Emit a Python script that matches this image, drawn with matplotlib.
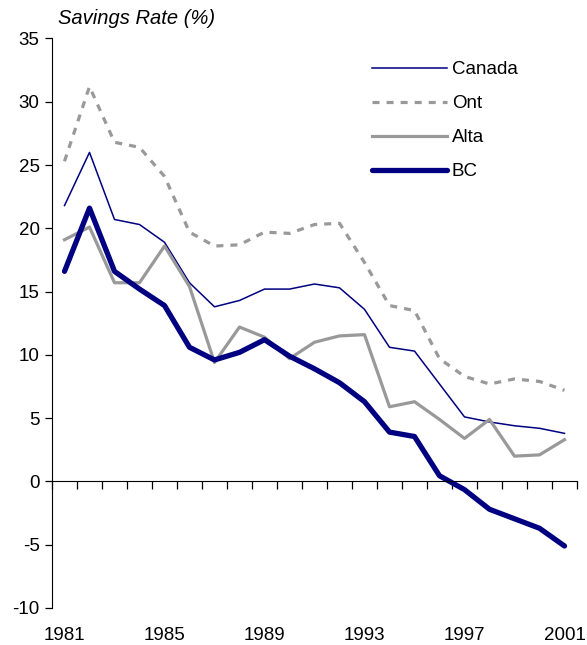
import matplotlib
matplotlib.use("Agg")
import matplotlib.pyplot as plt
import numpy as np

plt.rcParams['font.family'] = ['Liberation Sans', 'DejaVu Sans']

years = list(range(1981, 2002))
canada = [21.8, 26.0, 20.7, 20.3, 18.9, 15.7, 13.8, 14.3, 15.2, 15.2, 15.6,
          15.3, 13.6, 10.6, 10.3, 7.7, 5.1, 4.7, 4.4, 4.2, 3.8]
ont = [25.3, 31.2, 26.8, 26.4, 24.1, 19.7, 18.6, 18.7, 19.7, 19.6, 20.3,
       20.4, 17.3, 13.9, 13.5, 9.7, 8.3, 7.7, 8.1, 7.9, 7.2]
alta = [19.1, 20.1, 15.7, 15.7, 18.6, 15.4, 9.4, 12.2, 11.4, 9.7, 11.0,
        11.5, 11.6, 5.9, 6.3, 4.9, 3.4, 4.9, 2.0, 2.1, 3.3]
bc = [16.6, 21.6, 16.6, 15.2, 13.9, 10.6, 9.6, 10.2, 11.2, 9.9, 8.9,
      7.8, 6.3, 3.9, 3.55, 0.45, -0.65, -2.2, -2.95, -3.7, -5.1]
x_labels = [1981, 1985, 1989, 1993, 1997, 2001]
y_ticks = list(range(-10, 36, 5))

NAVY = '#000080'
GRAY = '#999999'
FS = 13.5

fig = plt.figure(figsize=(5.87, 6.45), dpi=100)
L, R = 52 / 587, 577 / 587
B, T = 1 - 608 / 645, 1 - 38.5 / 645
ax = fig.add_axes([L, B, R - L, T - B])

ax.plot(years, canada, color=NAVY, lw=1.1, label='Canada')
ax.plot(years, ont, color=GRAY, lw=2.3, dashes=(2.2, 2.2), label='Ont')
ax.plot(years, alta, color=GRAY, lw=2.3, label='Alta')
ax.plot(years, bc, color=NAVY, lw=3.8, label='BC', solid_capstyle='round')

ax.set_xlim(1980.5, 2001.5)
ax.set_ylim(-10, 35)

for s in ['top', 'right']:
    ax.spines[s].set_visible(False)
ax.spines['bottom'].set_position(('data', 0))
ax.spines['bottom'].set_color('black')
ax.spines['left'].set_color('black')

ax.set_xticks(np.arange(1980.5, 2002, 1.0))
ax.set_xticklabels([])
ax.tick_params(axis='x', direction='out', length=6, width=0.9, colors='black')
ax.set_yticks(y_ticks)
ax.set_yticklabels([str(v) for v in y_ticks], fontsize=FS)
ax.tick_params(axis='y', direction='out', length=5, width=0.9, pad=4)

sec = ax.secondary_xaxis('bottom')
sec.set_xticks(x_labels)
sec.set_xticklabels([str(v) for v in x_labels], fontsize=FS)
sec.tick_params(length=0, pad=14)
sec.spines['bottom'].set_visible(False)

fig.text(58 / 587, 1 - 19 / 645, 'Savings Rate (%)', fontsize=14.5, style='italic',
         ha='left', va='center')

leg = ax.legend(loc='upper left', bbox_to_anchor=(0.61, 0.96), frameon=False,
                fontsize=FS, handlelength=4.0, handletextpad=0.25,
                labelspacing=0.9, borderpad=0, borderaxespad=0)

fig.savefig('out.png', dpi=100)
